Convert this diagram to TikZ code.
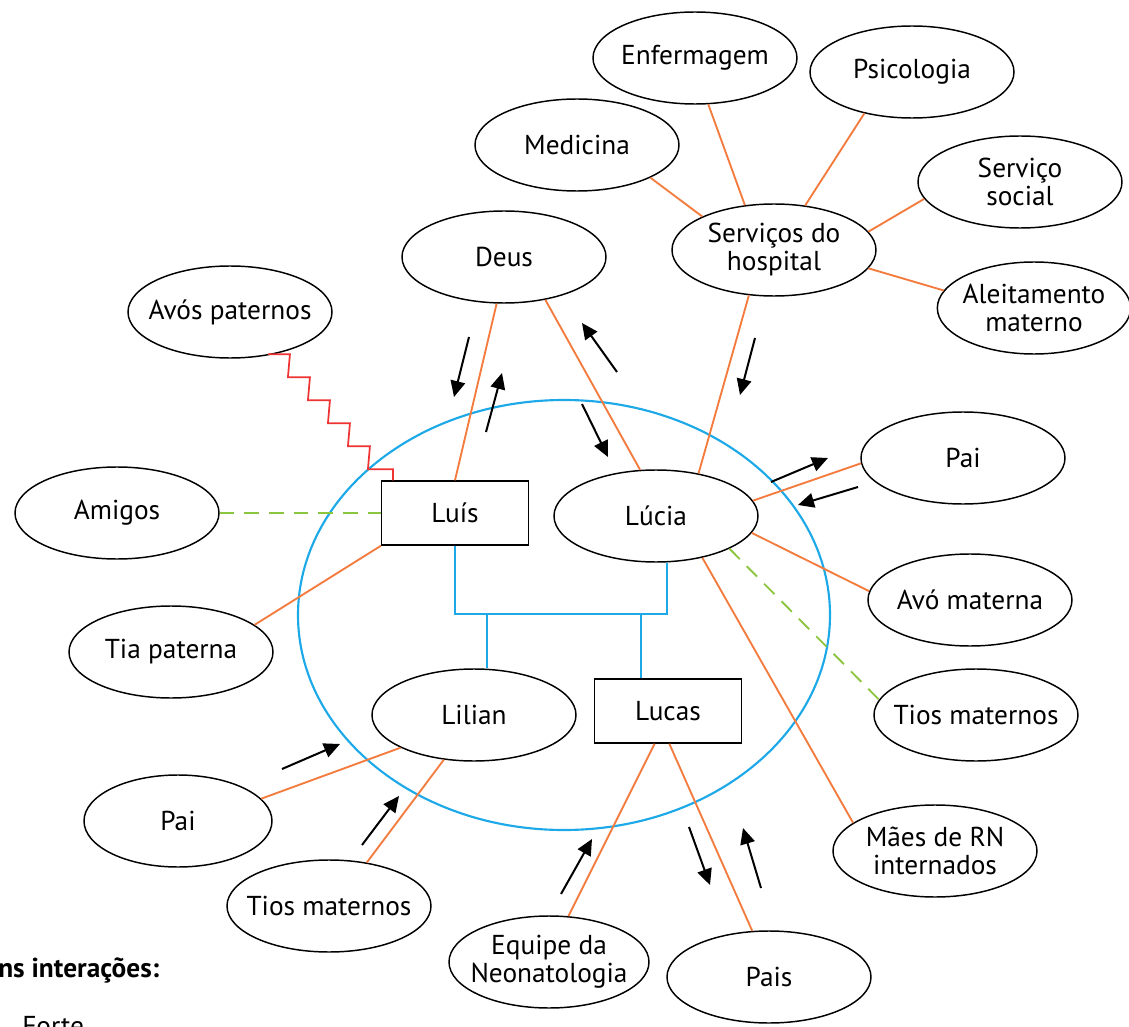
\documentclass[tikz,border=0pt]{standalone}
\usepackage{fontspec}
\setmainfont{PT Sans}
\usetikzlibrary{shapes.geometric,arrows.meta}
\definecolor{laranja}{HTML}{F47B3E}
\definecolor{azul}{HTML}{1DA9E8}
\definecolor{verde}{HTML}{8CC63F}
\definecolor{vermelho}{HTML}{EE3333}
\tikzset{
  every node/.style={font=\fontsize{20.5}{21}\selectfont},
  ent/.style={ellipse, draw, line width=1.1pt, minimum width=153pt, minimum height=69pt, inner xsep=-15pt, inner ysep=0pt, align=center},
  caixa/.style={rectangle, draw, line width=1.1pt, minimum width=110pt, minimum height=48pt},
  forte/.style={draw=laranja, line width=1.4pt},
  fraca/.style={draw=verde, line width=1.4pt, dash pattern=on 11pt off 7.5pt},
  conflito/.style={draw=vermelho, line width=1.3pt},
  familia/.style={draw=azul, line width=1.6pt},
  seta/.style={-{Triangle[length=12pt,width=11pt]}, line width=1.5pt}
}
\begin{document}
\begin{tikzpicture}[x=0.75pt,y=-0.75pt]
\useasboundingbox (0,0) rectangle (1129,1027);

% the family circle
\draw[familia] (564,615) ellipse [x radius=266, y radius=215];

% the family
\node[caixa] (luis) at (455,513) {Luís};
\node[ent] (lucia) at (656,516) {Lúcia};
\node[ent] (lilian) at (474,715) {Lilian};
\node[caixa] (lucas) at (668,711) {Lucas};

% the network round it
\node[ent] (enferm) at (695,58) {Enfermagem};
\node[ent] (psico) at (912,72) {Psicologia};
\node[ent] (medic) at (577,145) {Medicina};
\node[ent] (social) at (1020,182) {Serviço\\social};
\node[ent] (hosp) at (774,250) {Serviços do\\hospital};
\node[ent, minimum width=145pt] (aleit) at (1034,308) {Aleitamento\\materno};
\node[ent] (deus) at (504,257) {Deus};
\node[ent] (avos) at (230,312) {Avós paternos};
\node[ent] (amigos) at (117,513) {Amigos};
\node[ent] (tiapat) at (171,652) {Tia paterna};
\node[ent] (paidir) at (963,458) {Pai};
\node[ent] (avomat) at (970,600) {Avó materna};
\node[ent] (tiosdir) at (976,715) {Tios maternos};
\node[ent] (maes) at (935,851) {Mães de RN\\internados};
\node[ent, minimum width=141pt] (paiesq) at (178,821) {Pai};
\node[ent] (tiosesq) at (329,906) {Tios maternos};
\node[ent, minimum width=150pt] (equipe) at (549,962) {Equipe da\\Neonatologia};
\node[ent] (pais) at (769,977) {Pais};

% family ties
\coordinate (uniao) at (667,614);
\draw[familia] (luis.south) |- (uniao) -- (uniao |- lucia.south);
\coordinate (f1) at (487,614);
\coordinate (f2) at (641,614);
\draw[familia] (f1) -- (f1 |- lilian.north);
\draw[familia] (f2) -- (f2 |- lucas.north);

% strong interactions
\draw[forte] (medic.-24) -- (hosp.155);
\draw[forte] (enferm.-74) -- (hosp.123);
\draw[forte] (psico.-139) -- (hosp.55);
\draw[forte] (social.190) -- (hosp.11);
\draw[forte] (aleit.169) -- (hosp.-11);
\draw[forte] (hosp.-119) -- (lucia.45);
\draw[forte] (deus.-99) -- (luis.north);
\draw[forte] (deus.-46) -- (lucia.109);
\draw[forte] (paidir.183) -- (lucia.9);
\draw[forte] (avomat.175) -- (lucia.-10);
\draw[forte] (lucia.-42) -- (maes.161);
\draw[forte] (tiapat.18) -- (luis.south west);
\draw[forte] (lilian.204) -- (paiesq.15);
\draw[forte] (lilian.-124) -- (tiosesq.49);
\draw[forte] ([xshift=-10pt]lucas.south) -- (equipe.67);
\draw[forte] ([xshift=1pt]lucas.south) -- (pais.110);

% weak interactions
\draw[fraca] (amigos.east) -- (luis.west);
\draw[fraca] (lucia.-24) -- (tiosdir.171);

% conflict
\draw[conflito] ([xshift=9pt]luis.north west) -- ++(0,-11) -- ++(-25,0)
  foreach \i in {1,...,5} {-- ++(2,-23) -- ++(-22,0)};

% direction of the energy
\draw[seta] (469,337) -- (454,397);
\draw[seta] (486,432) -- (502,373);
\draw[seta] (617,372) -- (582,323);
\draw[seta] (582,404) -- (608,457);
\draw[seta] (755,338) -- (740,395);
\draw[seta] (771,482) -- (828,458);
\draw[seta] (858,487) -- (798,505);
\draw[seta] (282,769) -- (340,744);
\draw[seta] (362,845) -- (399,796);
\draw[seta] (561,894) -- (592,839);
\draw[seta] (689,827) -- (710,885);
\draw[seta] (761,888) -- (743,828);

% legend
\node[anchor=west, inner sep=0pt, font=\fontsize{20.5}{21}\selectfont\bfseries] (leg) at (-2,970) {ns interações:};
\node[anchor=north west, inner sep=0pt] (forteleg) at (22,1016) {Forte};
\end{tikzpicture}
\end{document}
